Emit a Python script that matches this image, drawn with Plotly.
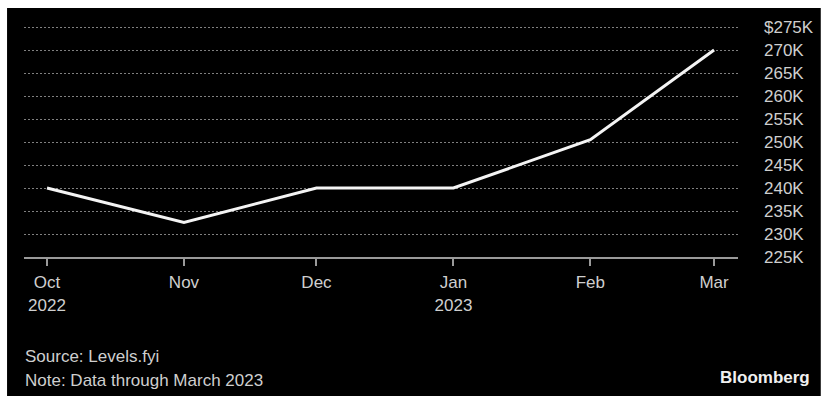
import plotly.graph_objects as go

months = ["2022-10-01", "2022-11-01", "2022-12-01", "2023-01-01", "2023-02-01", "2023-03-01"]
month_labels = ["Oct<br>2022", "Nov", "Dec", "Jan<br>2023", "Feb", "Mar"]
salary = [240000, 232500, 240000, 240000, 250500, 270000]
y_ticks = [225000, 230000, 235000, 240000, 245000, 250000, 255000, 260000, 265000, 270000, 275000]
y_labels = ["225K", "230K", "235K", "240K", "245K", "250K", "255K", "260K", "265K", "270K", "$275K"]
source_text = "Source: Levels.fyi"
note_text = "Note: Data through March 2023"
brand = "Bloomberg"

W, H = 826, 396
L, R, T, B = 24, 86, 25, 139
pw, ph = W - L - R, H - T - B
# y range padded a hair above 275K so the top gridline is drawn
y_min, y_max = 225000, 225000 + 50000 * ph / 230

def px_x(px):
    return (px - L) / pw

def px_y(py):
    return (H - B - py) / ph

FONT = "Liberation Sans"
TXT = "#cfcfcf"

fig = go.Figure()
fig.add_trace(go.Scatter(
    x=months, y=salary, mode="lines",
    line=dict(color="#f4f4f4", width=3),
    hoverinfo="skip", showlegend=False,
))

fig.update_layout(
    width=W, height=H,
    margin=dict(l=L, r=R, t=T, b=B, pad=0),
    paper_bgcolor="white",
    plot_bgcolor="black",
    font=dict(family=FONT, size=17, color=TXT),
    shapes=[dict(
        type="rect", xref="paper", yref="paper", layer="below",
        x0=px_x(7), x1=px_x(823), y0=px_y(396), y1=px_y(8),
        fillcolor="black", line=dict(width=0),
    )],
    annotations=[
        dict(text=source_text, xref="paper", yref="paper", x=px_x(23), y=px_y(356),
             xanchor="left", yanchor="middle", showarrow=False,
             font=dict(family=FONT, size=17, color=TXT)),
        dict(text=note_text, xref="paper", yref="paper", x=px_x(23), y=px_y(380),
             xanchor="left", yanchor="middle", showarrow=False,
             font=dict(family=FONT, size=17, color=TXT)),
        dict(text="<b>" + brand + "</b>", xref="paper", yref="paper", x=px_x(814), y=px_y(377),
             xanchor="right", yanchor="middle", showarrow=False,
             font=dict(family=FONT, size=17, color="#f0f0f0")),
    ],
)

fig.update_xaxes(
    type="date",
    range=["2022-09-25 19:00", "2023-03-06 10:00"],
    tickvals=months, ticktext=month_labels,
    ticks="outside", ticklen=7, tickwidth=1.5, tickcolor="#9a9a9a",
    ticklabelstandoff=2,
    showline=True, linecolor="#9a9a9a", linewidth=2,
    showgrid=False, zeroline=False,
    tickfont=dict(family=FONT, size=17, color=TXT),
)

fig.update_yaxes(
    side="right",
    range=[y_min, y_max],
    tickvals=y_ticks, ticktext=y_labels,
    ticks="", ticklabelstandoff=25,
    showgrid=True, gridcolor="#808080", gridwidth=1, griddash="1.5px,2.5px",
    showline=False, zeroline=False,
    tickfont=dict(family=FONT, size=17, color=TXT),
)

fig.write_html("out.html")
